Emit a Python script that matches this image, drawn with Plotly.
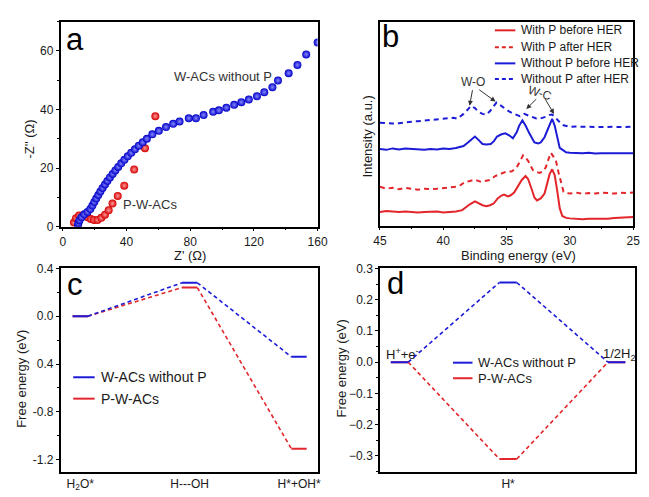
import plotly.graph_objects as go

# ---------------- (a) Nyquist plots ----------------
nyq_blue_re = [9.5, 9.8, 10.5, 11.8, 13.5, 15.5, 17.3, 18.6, 19.8, 21.0, 22.3, 23.6, 25.0, 26.5,
               28.0, 29.6, 31.3, 33.0, 34.8, 36.7, 38.7, 40.8, 43.0, 45.3, 47.7, 50.2, 52.8,
               56.2, 60.3, 64.8, 69.3, 73.3, 79.1, 83.6, 88.4, 94.4, 98.0, 102.7, 107.6, 112.1,
               116.8, 121.9, 126.5, 131.6, 135.1, 141.8, 147.3, 152.8, 160.0]
nyq_blue_im = [0.3, 1.2, 2.2, 3.2, 4.2, 5.0, 6.0, 7.2, 8.4, 9.6, 10.8, 12.0, 13.2, 14.4,
               15.6, 16.8, 18.0, 19.2, 20.4, 21.6, 22.8, 24.0, 25.2, 26.4, 27.6, 28.8, 30.0,
               31.5, 32.7, 34.0, 35.1, 35.9, 37.0, 37.0, 38.1, 39.2, 39.7, 40.6, 41.6, 42.5,
               43.4, 44.5, 45.9, 47.6, 49.9, 52.4, 55.2, 58.8, 62.9]
nyq_red_re = [7.0, 8.3, 10.2, 12.8, 15.6, 17.6, 19.6, 21.8, 24.2, 26.5, 28.8, 31.2, 34.5,
              38.6, 44.8, 51.6, 58.1]
nyq_red_im = [1.4, 2.9, 3.8, 3.8, 3.2, 2.6, 2.3, 2.3, 3.0, 4.1, 5.6, 7.9, 10.5,
              14.0, 19.5, 26.8, 37.7]

# ---------------- (b) W 4f XPS spectra ----------------
be_red_before = [45.0, 44.5, 44.0, 43.5, 43.0, 42.5, 42.0, 41.5, 41.0, 40.5, 40.0, 39.5, 39.0,
                 38.5, 38.2, 37.9, 37.5, 37.2, 36.9, 36.6, 36.3, 36.0, 35.7, 35.4, 35.2, 34.9,
                 34.7, 34.4, 34.1, 33.8, 33.5, 33.3, 33.0, 32.8, 32.6, 32.3, 32.0, 31.8, 31.6,
                 31.4, 31.2, 31.0, 30.8, 30.6, 30.3, 30.0, 29.5, 29.0, 28.5, 28.0, 27.5, 27.0,
                 26.5, 26.0, 25.5, 25.0]
int_red_before = [14, 15, 14.5, 14, 14.5, 14, 13.5, 14, 14, 14.5, 13.5, 14, 14.5,
                  16, 19, 22, 25, 23, 21, 20, 21, 23, 28, 31, 32, 30,
                  31, 34, 40, 47, 51, 48, 37, 29, 26, 28, 33, 42, 53,
                  58, 52, 36, 18, 10, 8, 7.5, 7, 6.5, 7, 7, 7.5, 7,
                  8, 8.5, 9, 9]

be_red_after = [45.0, 44.5, 44.0, 43.5, 43.0, 42.5, 42.0, 41.5, 41.0, 40.5, 40.0, 39.5, 39.0,
                38.6, 38.3, 37.9, 37.5, 37.0, 36.6, 36.25, 35.9, 35.5, 35.0, 34.6, 34.2, 33.9,
                33.7, 33.5, 33.3, 32.9, 32.4, 32.1, 31.9, 31.7, 31.5, 31.3, 31.1, 30.9, 30.7,
                30.5, 30.2, 30.0, 29.5, 29.0, 28.5, 28.0, 27.5, 27.0, 26.5, 26.0, 25.5, 25.0]
int_red_after = [40, 38, 39, 37.5, 39, 38, 37, 38, 37.5, 38, 38.5, 39, 40,
                 42, 45, 46, 47.3, 45, 46, 47.3, 51, 53.3, 55.7, 55.7, 60, 67,
                 72.3, 70, 66.7, 56.7, 54.3, 56, 60, 68, 75, 71, 66.7, 55, 45,
                 35, 33.5, 33, 34, 33, 33.5, 33, 34, 33.5, 33, 34, 33.5, 34]

be_blue_before = [45.0, 44.5, 44.0, 43.5, 43.0, 42.5, 42.0, 41.5, 41.0, 40.5, 40.0, 39.5, 39.0,
                  38.7, 38.4, 38.0, 37.7, 37.5, 37.2, 36.9, 36.6, 36.25, 36.0, 35.75, 35.4, 35.1,
                  34.8, 34.5, 34.2, 34.0, 33.75, 33.5, 33.2, 32.8, 32.5, 32.3, 32.0, 31.7, 31.4,
                  31.2, 31.0, 30.8, 30.6, 30.3, 30.0, 29.5, 29.0, 28.5, 28.0, 27.5, 27.0, 26.5,
                  26.0, 25.5, 25.0]
int_blue_before = [79, 78, 79.5, 78.5, 79.5, 79, 78.5, 78, 79, 78.5, 79.5, 79, 80,
                   81, 82, 86, 90, 91.7, 88, 84, 83.5, 84, 87, 91.7, 94, 95,
                   93, 90, 96, 103, 108.3, 103, 95, 85.7, 84.5, 85.7, 91, 101, 110,
                   103, 90, 80, 78.3, 75.5, 75, 74.5, 74.5, 75, 74.3, 74.5, 74.5, 74.2,
                   74.5, 74.3, 74.5]

be_blue_after = [45.0, 44.5, 44.0, 43.5, 43.0, 42.5, 42.0, 41.5, 41.0, 40.5, 40.0, 39.5, 39.2,
                 38.9, 38.6, 38.4, 38.1, 37.8, 37.5, 37.2, 36.9, 36.6, 36.3, 36.0, 35.8, 35.5,
                 35.2, 34.8, 34.5, 34.2, 33.95, 33.6, 33.3, 33.0, 32.7, 32.4, 32.1, 31.8, 31.6,
                 31.4, 31.2, 31.0, 30.7, 30.5, 30.2, 30.0, 29.5, 29.0, 28.5, 28.0, 27.5, 27.0,
                 26.5, 26.0, 25.5, 25.0]
int_blue_after = [106, 105.5, 105, 105.5, 106.5, 107, 107.5, 108, 109, 109.5, 110, 110.5, 111,
                  110, 113, 115, 119, 123.3, 121, 117, 115, 114.3, 118, 124, 126.7, 124,
                  121, 117.5, 115.5, 113.5, 112.7, 115, 113.5, 112, 110.5, 110, 111, 112.5, 114,
                  114.3, 112, 109, 105, 103.3, 102, 101.7, 102, 101.5, 101.7, 101.5, 101.7, 101.5,
                  101.7, 101.5, 101.7, 101.7]

xps_names = ["With P before HER", "With P after HER", "Without P before HER", "Without P after HER"]

# ---------------- (c) water dissociation, (d) hydrogen adsorption ----------------
c_states = ["H<sub>2</sub>O*", "H---OH", "H*+OH*"]
c_blue = [0.0, 0.28, -0.34]
c_red = [0.0, 0.24, -1.11]

d_states = ["H<sup>+</sup>+e<sup>-</sup>", "H*", "1/2H<sub>2</sub>"]
d_blue = [0.0, 0.255, 0.0]
d_red = [0.0, -0.31, 0.0]

series_names = ["W-ACs without P", "P-W-ACs"]

BLUE = "#1c1cd6"
RED = "#e3262b"
FONT = "Liberation Sans, Arial, sans-serif"
INK = "#1a1a1a"
W, H = 649, 497


def px(x):
    return x / W


def py(y):
    return 1 - y / H


fig = go.Figure()

# (a)
fig.add_trace(go.Scatter(
    x=nyq_red_re, y=nyq_red_im, mode="markers", xaxis="x", yaxis="y", showlegend=False,
    marker=dict(size=8, color="#d40000", line=dict(width=0),
                gradient=dict(type="radial", color="#ff9a9a"))))
fig.add_trace(go.Scatter(
    x=nyq_blue_re, y=nyq_blue_im, mode="markers", xaxis="x", yaxis="y", showlegend=False,
    marker=dict(size=8, color="#0000c8", line=dict(width=0),
                gradient=dict(type="radial", color="#8a8aff"))))

# (b)
xps_styles = [(RED, "solid"), (RED, "5px,4px"), (BLUE, "solid"), (BLUE, "5px,4px")]
for (be, it), name, (col, dash) in zip(
        [(be_red_before, int_red_before), (be_red_after, int_red_after),
         (be_blue_before, int_blue_before), (be_blue_after, int_blue_after)],
        xps_names, xps_styles):
    fig.add_trace(go.Scatter(x=be, y=it, mode="lines", name=name, xaxis="x2", yaxis="y2",
                             showlegend=False, line=dict(color=col, width=2, dash=dash)))


def profile(levels, half):
    """Horizontal state levels plus the dashed connectors between them."""
    lx, ly, cx, cy = [], [], [], []
    for i, v in enumerate(levels):
        lx += [i - half, i + half, None]
        ly += [v, v, None]
        if i + 1 < len(levels):
            cx += [i + half, i + 1 - half, None]
            cy += [v, levels[i + 1], None]
    return lx, ly, cx, cy


for xa, ya, blue, red, half in [("x3", "y3", c_blue, c_red, 0.07), ("x4", "y4", d_blue, d_red, 0.08)]:
    for vals, col in [(red, RED), (blue, BLUE)]:
        lx, ly, cx, cy = profile(vals, half)
        fig.add_trace(go.Scatter(x=cx, y=cy, mode="lines", xaxis=xa, yaxis=ya, showlegend=False,
                                 line=dict(color=col, width=1.6, dash="4px,3px")))
    for vals, col, name in [(red, RED, series_names[1]), (blue, BLUE, series_names[0])]:
        lx, ly, cx, cy = profile(vals, half)
        fig.add_trace(go.Scatter(x=lx, y=ly, mode="lines", name=name, xaxis=xa, yaxis=ya,
                                 showlegend=False, line=dict(color=col, width=2)))

frame = dict(showline=True, linecolor="black", linewidth=1.5, mirror=True, zeroline=False,
             showgrid=False, tickfont=dict(family=FONT, size=12, color=INK),
             ticks="outside", ticklen=3, tickwidth=1, tickcolor="black")

fig.update_layout(
    width=W, height=H, margin=dict(l=0, r=0, t=0, b=0), autosize=False,
    paper_bgcolor="white", plot_bgcolor="white", showlegend=False,
    font=dict(family=FONT, size=12, color=INK),
    xaxis=dict(frame, domain=[px(55), px(319)], range=[-1.4, 160], anchor="y",
               tickvals=[0, 40, 80, 120, 160],
               minor=dict(ticks="outside", ticklen=2, dtick=20, tick0=0)),
    yaxis=dict(frame, domain=[py(226), py(15)], range=[0, 70], anchor="x",
               tickvals=[0, 20, 40, 60],
               minor=dict(ticks="outside", ticklen=2, dtick=10, tick0=0)),
    xaxis2=dict(frame, domain=[px(383), px(643)], range=[45, 25], anchor="y2",
                tickvals=[45, 40, 35, 30, 25],
                minor=dict(ticks="outside", ticklen=2, dtick=2.5, tick0=25)),
    yaxis2=dict(frame, domain=[py(225), py(15)], range=[0, 210], anchor="x2",
                showticklabels=False, ticks=""),
    xaxis3=dict(frame, domain=[px(55), px(319)], range=[-0.18, 2.17], anchor="y3",
                tickvals=[0, 1, 2], ticktext=c_states, ticks=""),
    yaxis3=dict(frame, domain=[py(478), py(269)], range=[-1.3, 0.4], anchor="x3",
                tickvals=[0.4, 0.0, -0.4, -0.8, -1.2],
                ticktext=["0.4", "0.0", "0.4", "-0.8", "-1.2"],
                minor=dict(ticks="outside", ticklen=2, dtick=0.2, tick0=0)),
    xaxis4=dict(frame, domain=[px(383), px(645)], range=[-0.18, 2.17], anchor="y4",
                tickvals=[1], ticktext=[d_states[1]], ticks=""),
    yaxis4=dict(frame, domain=[py(478), py(269)], range=[-0.35, 0.3], anchor="x4",
                tickvals=[0.3, 0.2, 0.1, 0.0, -0.1, -0.2, -0.3], tickformat=".1f",
                minor=dict(ticks="outside", ticklen=2, dtick=0.05, tick0=0)),
)

ann = []
shapes = []


def text(t, x, y, size=13, angle=0, color=INK, xanchor="center"):
    ann.append(dict(text=t, x=px(x), y=py(y), xref="paper", yref="paper", showarrow=False,
                    xanchor=xanchor, yanchor="middle", textangle=angle,
                    font=dict(family=FONT, size=size, color=color)))


# panel letters
for letter, x, y in [("a", 70, 33), ("b", 394, 30), ("c", 70, 286), ("d", 399, 285)]:
    text(letter, x, y, size=31, color="black")

# axis titles
text("-Z'' (Ω)", 23, 136, angle=-90)
text("Z' (Ω)", 188, 256)
text("Intensity (a.u.)", 370, 133, angle=-90)
text("Binding energy (eV)", 525, 256)
text("Free energy (eV)", 15, 383, angle=-90)
text("Free energy (eV)", 344, 372, angle=-90)


# hand-placed legends
def legend(entries, x0, x1, rows, size):
    for (name, col, dash), yy in zip(entries, rows):
        shapes.append(dict(type="line", xref="paper", yref="paper", x0=px(x0), x1=px(x1),
                           y0=py(yy), y1=py(yy), line=dict(color=col, width=2, dash=dash)))
        text(name, x1 + 4, yy, size=size, xanchor="left")


legend([(n, c, "solid" if d == "solid" else "4px,3px") for n, (c, d) in zip(xps_names, xps_styles)],
       501, 522, [24, 41.5, 58, 74], 12)
legend([(series_names[0], BLUE, "solid"), (series_names[1], RED, "solid")], 68, 90, [381, 403], 14)
legend([(series_names[0], BLUE, "solid"), (series_names[1], RED, "solid")], 458, 478, [366, 382], 13)

# labels inside (a)
ann.append(dict(text="W-ACs without P", x=100.7, y=51.3, xref="x", yref="y", showarrow=False,
                font=dict(family=FONT, size=13, color="#333")))
ann.append(dict(text="P-W-ACs", x=36.3, y=7.5, xref="x", yref="y", showarrow=False,
                xanchor="left", font=dict(family=FONT, size=13, color="#333")))
# peak assignments in (b)
ann.append(dict(text="W-O", x=37.69, y=148, xref="x2", yref="y2", showarrow=False,
                font=dict(family=FONT, size=12, color="#333")))
ann.append(dict(text="W-C", x=32.38, y=137, xref="x2", yref="y2", showarrow=False,
                textangle=18, font=dict(family=FONT, size=12, color="#333")))
for tx, ty, hx, hy in [(37.67, 141, 37.92, 123.3), (37.28, 141, 35.87, 127.7),
                       (32.54, 131.7, 33.44, 120), (32.02, 131.7, 31.25, 115)]:
    ann.append(dict(text="", x=hx, y=hy, ax=tx, ay=ty, xref="x2", yref="y2",
                    axref="x2", ayref="y2", showarrow=True, arrowhead=2, arrowsize=1,
                    arrowwidth=1, arrowcolor="#333"))
# state labels in (d)
ann.append(dict(text=d_states[0], x=0.03, y=0.025, xref="x4", yref="y4", showarrow=False,
                yanchor="middle", font=dict(family=FONT, size=13, color=INK)))
ann.append(dict(text=d_states[2], x=2.03, y=0.025, xref="x4", yref="y4", showarrow=False,
                yanchor="middle", font=dict(family=FONT, size=13, color=INK)))

fig.update_layout(annotations=ann, shapes=shapes)

fig.write_html("out.html")
